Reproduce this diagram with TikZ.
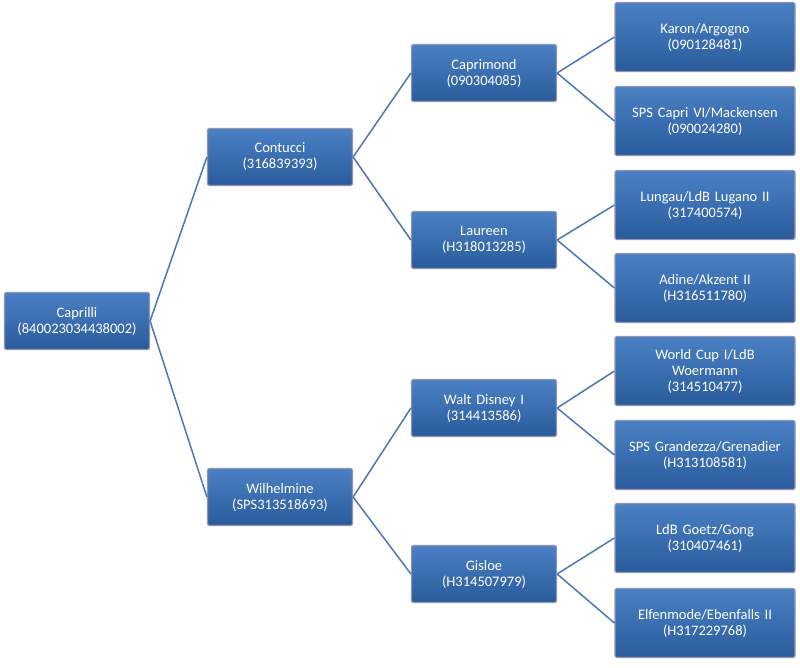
\documentclass[tikz,border=0pt]{standalone}
\usepackage{fontspec}
\setmainfont{Carlito}
\begin{document}
\begin{tikzpicture}[x=1pt,y=-1pt,
 box/.style={draw=white!70!blue!40!gray,line width=1.2pt,rounded corners=2pt,top color=bx1,bottom color=bx2,text=white,align=center,font=\fontsize{14.5}{16}\selectfont,inner sep=2pt},
 l1/.style={box,minimum width=145pt,minimum height=57pt,text width=140pt},
 l2/.style={box,minimum width=180pt,minimum height=69pt,text width=175pt},
 cn/.style={draw=ln,line width=1.5pt}]
\definecolor{bx1}{HTML}{4A80C4}\definecolor{bx2}{HTML}{2A5C9C}\definecolor{ln}{HTML}{4A78B4}
\useasboundingbox (0,0) rectangle (800,667);
\node[l1] (a) at (77,321) {Caprilli\\(840023034438002)};
\node[l1] (b) at (280,157) {Contucci\\(316839393)};
\node[l1] (c) at (280,497) {Wilhelmine\\(SPS313518693)};
\node[l1] (d) at (484,73) {Caprimond\\(090304085)};
\node[l1] (e) at (484,240) {Laureen\\(H318013285)};
\node[l1] (f) at (484,408) {Walt Disney I\\(314413586)};
\node[l1] (g) at (484,574) {Gisloe\\(H314507979)};
\node[l2] (h) at (705,37) {Karon/Argogno\\(090128481)};
\node[l2] (i) at (705,121) {SPS Capri VI/Mackensen\\(090024280)};
\node[l2] (j) at (705,205) {Lungau/LdB Lugano II\\(317400574)};
\node[l2] (k) at (705,288) {Adine/Akzent II\\(H316511780)};
\node[l2] (m) at (705,371) {World Cup I/LdB\\Woermann\\(314510477)};
\node[l2] (n) at (705,455) {SPS Grandezza/Grenadier\\(H313108581)};
\node[l2] (o) at (705,538) {LdB Goetz/Gong\\(310407461)};
\node[l2] (p) at (705,623) {Elfenmode/Ebenfalls II\\(H317229768)};
\foreach \s/\t in {a/b,a/c,b/d,b/e,c/f,c/g,d/h,d/i,e/j,e/k,f/m,f/n,g/o,g/p}
 \draw[cn] (\s.east) -- (\t.west);
\end{tikzpicture}
\end{document}
